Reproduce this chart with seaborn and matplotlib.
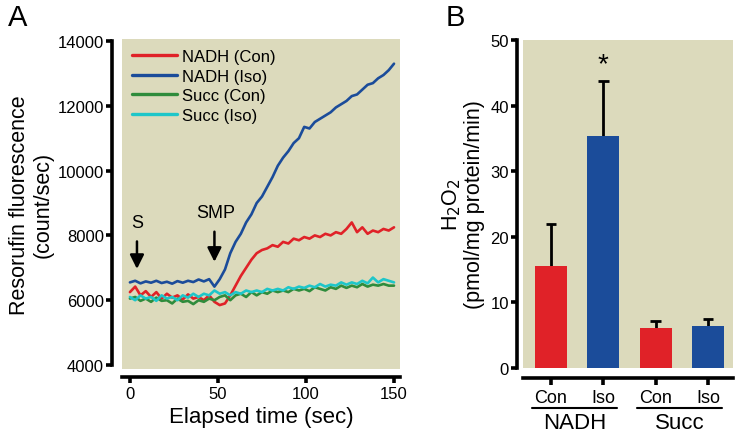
import numpy as np
import pandas as pd
import matplotlib
matplotlib.use("Agg")
import matplotlib.pyplot as plt
import seaborn as sns
from matplotlib.lines import Line2D

# ---------------- data ----------------
time = list(range(0, 151, 3))
nadh_con = [6250, 6420, 6150, 6280, 6100, 6250, 6050, 6200, 6080, 6150, 6020, 6180, 6050, 6100, 6000, 6150,
            5950, 5850, 5900, 6150, 6450, 6750, 7000, 7250, 7450, 7550, 7600, 7700, 7650, 7800, 7750, 7900,
            7850, 7950, 7900, 8000, 7950, 8050, 8000, 8100, 8050, 8200, 8400, 8100, 8250, 8050, 8150, 8100,
            8200, 8150, 8250]
nadh_iso = [6550, 6600, 6520, 6580, 6540, 6600, 6530, 6570, 6510, 6590, 6540, 6600, 6560, 6640, 6580, 6650,
            6420, 6650, 6950, 7450, 7800, 8050, 8400, 8650, 9000, 9200, 9500, 9800, 10150, 10400, 10600, 10850,
            11000, 11350, 11300, 11500, 11600, 11700, 11800, 11950, 12050, 12150, 12300, 12350, 12500, 12650,
            12700, 12850, 12950, 13100, 13300]
succ_con = [6050, 6100, 5980, 6050, 5950, 6080, 5980, 6000, 5900, 6050, 5950, 5980, 5880, 6000, 5950, 6050,
            6000, 6100, 6150, 6000, 6150, 6200, 6100, 6250, 6150, 6250, 6200, 6300, 6250, 6300, 6250, 6350,
            6300, 6350, 6280, 6400, 6350, 6300, 6400, 6350, 6450, 6380, 6450, 6400, 6500, 6420, 6480, 6450,
            6500, 6450, 6450]
succ_iso = [6100, 6000, 6150, 6050, 6100, 5980, 6150, 6050, 6100, 6000, 6150, 6080, 6200, 6100, 6200, 6150,
            6300, 6200, 6250, 6150, 6250, 6200, 6300, 6250, 6300, 6250, 6350, 6300, 6350, 6300, 6400, 6350,
            6420, 6380, 6450, 6400, 6500, 6420, 6480, 6450, 6550, 6480, 6550, 6500, 6600, 6520, 6700, 6550,
            6650, 6600, 6550]
series_names = ["NADH (Con)", "NADH (Iso)", "Succ (Con)", "Succ (Iso)"]

bar_labels = ["Con", "Iso", "Con", "Iso"]
bar_groups = ["NADH", "Succ"]
bar_values = [15.5, 35.3, 6.1, 6.4]
bar_errors = [6.5, 8.5, 1.1, 1.0]

# ---------------- style ----------------
sns.set_theme(style="ticks")
plt.rcParams["font.family"] = ["Liberation Sans", "DejaVu Sans"]
plt.rcParams["text.color"] = "black"
plt.rcParams["axes.labelcolor"] = "black"
plt.rcParams["xtick.color"] = "black"
plt.rcParams["ytick.color"] = "black"
plt.rcParams["axes.edgecolor"] = "black"

BG = "#dcdabc"
RED = "#e02228"
BLUE = "#1b4c9a"
GREEN = "#2f8c3c"
CYAN = "#1ec6c9"
colors = [RED, BLUE, GREEN, CYAN]

W, H = 742, 439
fig = plt.figure(figsize=(W / 100, H / 100), dpi=100)


def rect(x0, y0, x1, y1):
    return [x0 / W, 1 - y1 / H, (x1 - x0) / W, (y1 - y0) / H]


# ---------------- Panel A ----------------
axA = fig.add_axes(rect(122, 40, 400, 370))
axA.set_facecolor(BG)
df = pd.DataFrame({
    "time": time * 4,
    "value": nadh_con + nadh_iso + succ_con + succ_iso,
    "series": sum([[n] * len(time) for n in series_names], []),
})
sns.lineplot(data=df, x="time", y="value", hue="series", hue_order=series_names,
             palette=colors, linewidth=1.9, ax=axA, legend=False)
axA.set_xlim(-4.5, 153.4)
axA.set_ylim(3877, 14062)
axA.set_xticks([0, 50, 100, 150])
axA.set_yticks([4000, 6000, 8000, 10000, 12000, 14000])
axA.set_xlabel("Elapsed time (sec)", fontsize=16, labelpad=4)
axA.set_ylabel("Resorufin fluorescence\n(count/sec)", fontsize=15.5, labelpad=3, linespacing=1.15)
for s in ["top", "right"]:
    axA.spines[s].set_visible(False)
axA.spines["left"].set_position(("outward", 7))
axA.spines["bottom"].set_position(("outward", 6))
axA.spines["left"].set_bounds(4000, 14000)
axA.spines["left"].set_linewidth(2.6)
axA.spines["bottom"].set_linewidth(2.6)
axA.tick_params(axis="both", width=2.6, length=4, labelsize=12, pad=2)

handles = [Line2D([0], [0], color=c, lw=2.4) for c in colors]
axA.legend(handles, series_names, loc="upper left", frameon=False, fontsize=12,
           handlelength=2.7, handletextpad=0.3, labelspacing=0.28,
           borderaxespad=0.2, bbox_to_anchor=(0.0, 1.0))

# arrows
axA.annotate("", xy=(4, 6880), xytext=(4, 7900),
             arrowprops=dict(arrowstyle="-|>,head_width=0.35,head_length=0.7", color="black", lw=1.8))
axA.text(4, 8150, "S", ha="center", va="bottom", fontsize=13)
axA.annotate("", xy=(48, 7100), xytext=(48, 8200),
             arrowprops=dict(arrowstyle="-|>,head_width=0.35,head_length=0.7", color="black", lw=1.8))
axA.text(49, 8450, "SMP", ha="center", va="bottom", fontsize=13)

# ---------------- Panel B ----------------
axB = fig.add_axes(rect(523, 41, 733, 369))
axB.set_facecolor(BG)
cats = ["NADH Con", "NADH Iso", "Succ Con", "Succ Iso"]
bar_colors = [RED, BLUE, RED, BLUE]
# error bars (upper half only) drawn behind the bars
tops = [v + e for v, e in zip(bar_values, bar_errors)]
axB.vlines(range(4), bar_values, tops, color="black", lw=2.0, zorder=1)
axB.hlines(tops, [i - 0.1 for i in range(4)], [i + 0.1 for i in range(4)], color="black", lw=2.0, zorder=1)
sns.barplot(x=cats, y=bar_values, hue=cats, palette=bar_colors, width=0.61,
            saturation=1, ax=axB, legend=False, linewidth=0, zorder=2)
axB.text(1, 44.3, "*", ha="center", va="bottom", fontsize=20)
axB.set_xlim(-0.535, 3.48)
axB.set_ylim(0, 50)
axB.set_yticks([0, 10, 20, 30, 40, 50])
axB.set_xticks(range(4))
axB.set_xticklabels(bar_labels, fontsize=13)
axB.set_ylabel("H$_2$O$_2$\n(pmol/mg protein/min)", fontsize=15.5, labelpad=4, linespacing=1.05)
for s in ["top", "right"]:
    axB.spines[s].set_visible(False)
axB.spines["left"].set_position(("outward", 4))
axB.spines["bottom"].set_position(("outward", 7))
axB.spines["left"].set_linewidth(2.6)
axB.spines["bottom"].set_linewidth(2.6)
axB.tick_params(axis="y", width=2.6, length=4, labelsize=12, pad=2)
axB.tick_params(axis="x", width=2.6, length=5, labelsize=13, pad=3)
axB.set_xlabel("")

for gi, g in enumerate(bar_groups):
    x0, x1 = (532, 617) if gi == 0 else (637, 722)
    fig.add_artist(Line2D([x0 / W, x1 / W], [1 - 409 / H, 1 - 409 / H], color="black", lw=1.5))
    fig.text((x0 + x1) / 2 / W, 1 - 424 / H, g, ha="center", va="center", fontsize=16)

# panel letters
fig.text(8 / W, 1 - 18 / H, "A", fontsize=21, ha="left", va="center")
fig.text(446 / W, 1 - 18 / H, "B", fontsize=21, ha="left", va="center")

fig.savefig("out.png", dpi=100, facecolor="white")
